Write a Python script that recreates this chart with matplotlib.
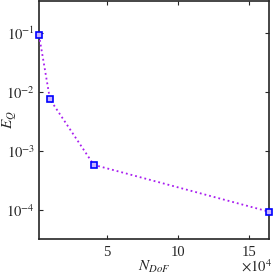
import math
import matplotlib
matplotlib.use("Agg")
import matplotlib.pyplot as plt
from matplotlib.ticker import FixedLocator, FuncFormatter, NullLocator

plt.rcParams['mathtext.fontset'] = 'stix'
plt.rcParams['font.family'] = ['Liberation Serif', 'DejaVu Serif']

n_dof = [2562, 10242, 40962, 163842]
err = [0.092, 0.0075, 0.00058, 9.3e-5]
x_ticks = [5e4, 10e4, 15e4]
y_ticks = [1e-4, 1e-3, 1e-2, 1e-1]

fig = plt.figure(figsize=(2.73, 2.74), dpi=100)
ax = fig.add_axes([0.143, 0.128, 0.842, 0.868])
ax.plot(n_dof, err, linestyle=':', color='#A81EF0', linewidth=1.3,
        marker='s', markersize=4.5, markeredgecolor='#0000FF',
        markerfacecolor='#C8B4FF', markeredgewidth=1.2, clip_on=False, zorder=3)
ax.set_yscale('log')
ax.set_xlim(n_dof[0], n_dof[-1])
ax.set_ylim(3.2e-5, 0.35)
ax.xaxis.set_major_locator(FixedLocator(x_ticks))
ax.xaxis.set_major_formatter(FuncFormatter(lambda v, p: f"{v/1e4:g}"))
ax.yaxis.set_major_locator(FixedLocator(y_ticks))
ax.yaxis.set_minor_locator(NullLocator())
ax.yaxis.set_major_formatter(FuncFormatter(lambda v, p: r"$10^{%d}$" % round(math.log10(v))))
ax.tick_params(direction='in', length=3, width=0.8, top=True, right=True,
               labelsize=10.5, colors='#262626', pad=3)
ax.tick_params(axis='x', pad=5)
for s in ax.spines.values():
    s.set_linewidth(1.2)
    s.set_color('#262626')
ax.set_xlabel(r"$N_{DoF}$", fontsize=11, color='#262626')
ax.xaxis.set_label_coords(0.5, -0.085, transform=ax.transAxes)
ax.xaxis.label.set_va('top')
ax.set_ylabel(r"$E_Q$", fontsize=11, color='#262626')
ax.yaxis.set_label_coords(-0.125, 0.5, transform=ax.transAxes)
ax.yaxis.label.set_va('center')
fig.text(0.997, 0.058, r"$\times10^{4}$", ha='right', va='top',
         fontsize=10.5, color='#262626')
fig.savefig("out.png", dpi=100)
